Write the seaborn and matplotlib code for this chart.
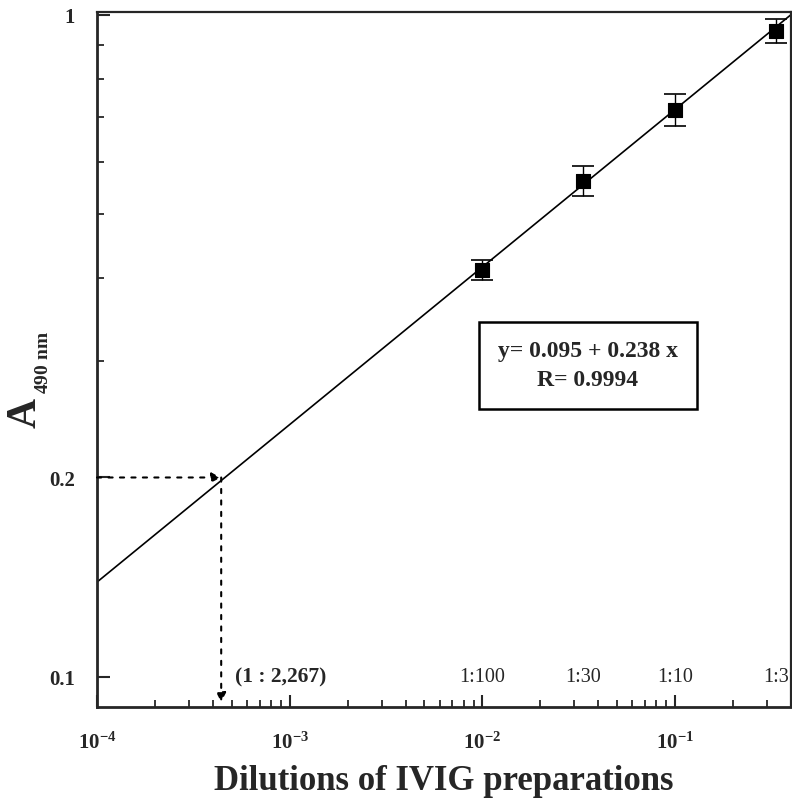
import seaborn as sns
import numpy as np
import pandas as pd
import matplotlib.pyplot as plt
from matplotlib.ticker import LogLocator, NullFormatter, FixedLocator

# measured points (dilution, A490, error)
dilutions = [1 / 100, 1 / 30, 1 / 10, 1 / 3]
dil_labels = ["1:100", "1:30", "1:10", "1:3"]
absorb = [0.412, 0.562, 0.719, 0.946]
errors = [0.014, 0.030, 0.040, 0.040]

# fit: log10(A) = a + b * log10(dilution)
fit_a = 0.095
fit_b = 0.238
fit_r = 0.9994
cutoff_A = 0.2
cutoff_dil = 1 / 2267

xlim = (1e-4, 0.4)
ylim = (0.09, 1.01)

sns.set_style("ticks")
plt.rcParams['font.family'] = ['Liberation Serif', 'DejaVu Serif']
plt.rcParams['mathtext.fontset'] = 'custom'
plt.rcParams['mathtext.rm'] = 'Liberation Serif:bold'
plt.rcParams['mathtext.bf'] = 'Liberation Serif:bold'
plt.rcParams['mathtext.it'] = 'Liberation Serif:bold:italic'

W, H = 792, 804
fig = plt.figure(figsize=(W / 100, H / 100), dpi=100)
ax = fig.add_axes([0.1225, 0.1194, 0.8762, 0.8644])

df = pd.DataFrame({"dil": dilutions, "A": absorb, "err": errors})
fit_x = np.array(xlim)
fit_df = pd.DataFrame({"dil": fit_x, "A": 10 ** (fit_a + fit_b * np.log10(fit_x))})

sns.lineplot(data=fit_df, x="dil", y="A", color="black", lw=1.2, ax=ax)
ax.errorbar(df["dil"], df["A"], yerr=df["err"], fmt="none", ecolor="black",
            elinewidth=1.0, capsize=8, capthick=1.2, zorder=3)
sns.scatterplot(data=df, x="dil", y="A", marker="s", s=100, color="black",
                edgecolor="black", ax=ax, zorder=4)

ax.set_xscale("log")
ax.set_yscale("log")
ax.set_xlim(*xlim)
ax.set_ylim(*ylim)

ax.xaxis.set_major_locator(FixedLocator([1e-4, 1e-3, 1e-2, 1e-1]))
ax.set_xticklabels([r"$10^{-4}$", r"$10^{-3}$", r"$10^{-2}$", r"$10^{-1}$"])
ax.xaxis.set_minor_locator(LogLocator(base=10, subs=np.arange(2, 10)))
ax.xaxis.set_minor_formatter(NullFormatter())

ax.yaxis.set_major_locator(FixedLocator([0.1, 0.2, 1.0]))
ax.set_yticklabels(["0.1", "0.2", "1"], fontweight="bold")
ax.yaxis.set_minor_locator(FixedLocator([0.3, 0.4, 0.5, 0.6, 0.7, 0.8, 0.9]))
ax.yaxis.set_minor_formatter(NullFormatter())

ax.tick_params(axis="both", which="major", direction="in", length=9, width=1.5,
               labelsize=15)
ax.tick_params(axis="both", which="minor", direction="in", length=5, width=1.3)
ax.tick_params(axis="x", which="major", pad=18)
ax.tick_params(axis="y", which="major", pad=16)
for lab in ax.get_yticklabels():
    lab.set_fontweight("bold")

for side in ["left", "bottom"]:
    ax.spines[side].set_linewidth(2.0)
for side in ["top", "right"]:
    ax.spines[side].set_linewidth(1.6)

# cutoff dotted arrows
ax.annotate("", xy=(cutoff_dil, cutoff_A), xytext=(xlim[0], cutoff_A),
            arrowprops=dict(arrowstyle="-|>", linestyle=(0, (2, 3.5)), color="black",
                            lw=1.5, mutation_scale=14, shrinkA=0, shrinkB=0))
ax.annotate("", xy=(cutoff_dil, 0.0915), xytext=(cutoff_dil, cutoff_A),
            arrowprops=dict(arrowstyle="-|>", linestyle=(0, (2, 3.5)), color="black",
                            lw=1.5, mutation_scale=14, shrinkA=0, shrinkB=0))
ax.text(cutoff_dil * 1.18, 0.1, "(1 : 2,267)", fontsize=15.5, fontweight="bold",
        ha="left", va="center")

for d, lab in zip(dilutions, dil_labels):
    ax.text(d, 0.1, lab, fontsize=14.5, ha="center", va="center")

ax.text(0.707, 0.492, "y= %.3f + %.3f x\nR= %.4f" % (fit_a, fit_b, fit_r),
        transform=ax.transAxes, fontsize=17, fontweight="bold", ha="center",
        va="center", linespacing=1.45,
        bbox=dict(boxstyle="square,pad=0.8", fc="white", ec="black", lw=1.8))

ax.set_xlabel("Dilutions of IVIG preparations", fontsize=25, fontweight="bold",
              labelpad=8)
ax.set_ylabel("")  # seaborn put the column name here
# y label: big A with small subscript
fig.text(26 / W, 1 - 413 / H, "A", rotation=90, fontsize=30, fontweight="bold",
         ha="center", va="center")
fig.text(43 / W, 1 - 394 / H, r"$\mathrm{490\ nm}$", rotation=90, fontsize=14,
         ha="center", va="bottom")

fig.savefig("out.png", dpi=100)
